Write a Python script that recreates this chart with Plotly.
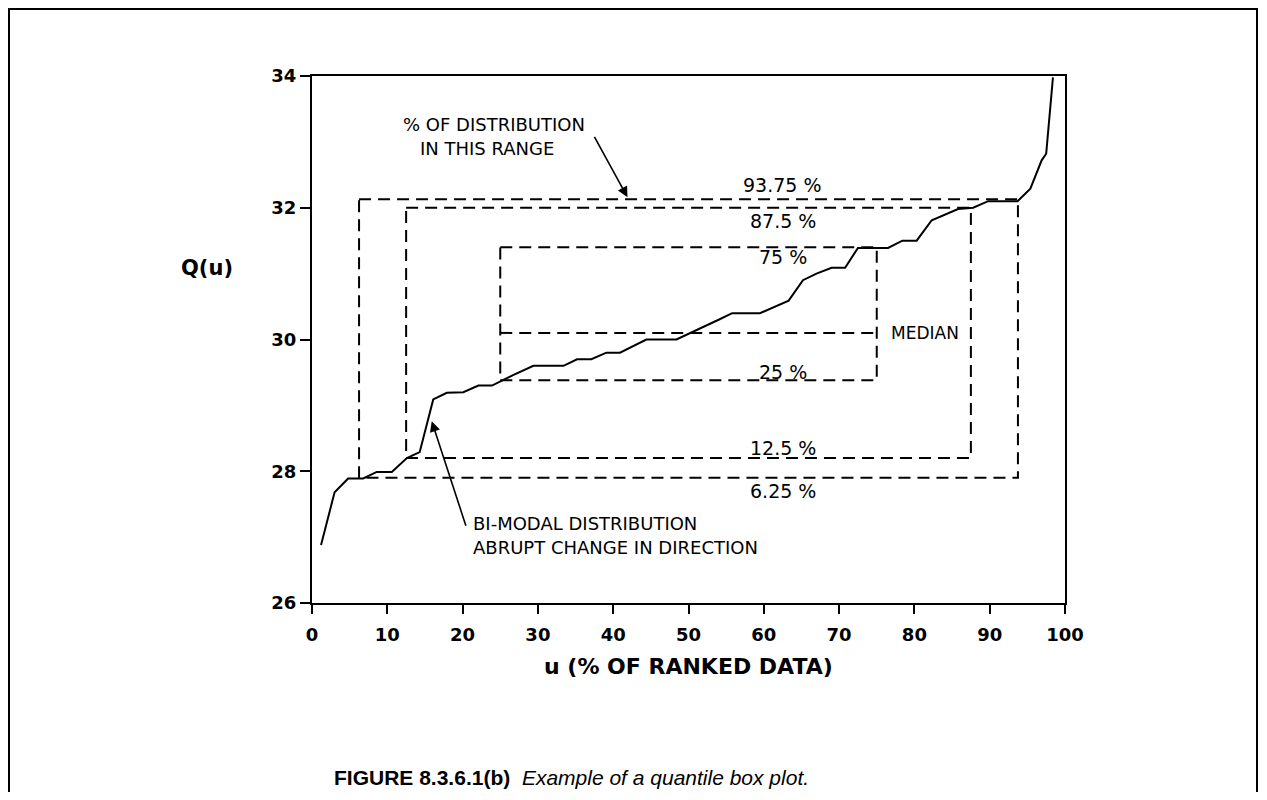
import plotly.graph_objects as go

# ---- data ----
u = [1.2, 3.0, 4.8, 6.8, 8.6, 10.6, 12.6, 14.3, 16.1, 17.9, 20.1, 22.1, 23.9, 26.7,
     29.4, 33.4, 35.2, 37.1, 39.1, 40.9, 44.4, 48.4, 54.0, 55.8, 59.5, 63.3, 65.2,
     67.0, 69.0, 70.8, 72.5, 76.5, 78.4, 80.3, 82.3, 85.8, 87.8, 89.8, 93.7, 95.4,
     96.9, 97.5, 98.4]
Q = [26.88, 27.68, 27.89, 27.89, 27.99, 27.99, 28.20, 28.29, 29.09, 29.19, 29.20, 29.30,
     29.30, 29.46, 29.60, 29.60, 29.70, 29.70, 29.80, 29.80, 30.00, 30.00, 30.30, 30.40,
     30.40, 30.59, 30.90, 31.00, 31.09, 31.09, 31.39, 31.39, 31.50, 31.50, 31.81, 31.98,
     32.00, 32.10, 32.10, 32.29, 32.72, 32.82, 33.98]

box_lo_u = [6.25, 12.5, 25.0]
box_hi_u = [93.75, 87.5, 75.0]
box_lo_q = [27.90, 28.20, 29.38]
box_hi_q = [32.13, 32.00, 31.40]
median_q = 30.10

x_ticks = [0, 10, 20, 30, 40, 50, 60, 70, 80, 90, 100]
y_ticks = [26, 28, 30, 32, 34]

# ---- layout geometry (screen pixels; page body has an 8px offset) ----
OFF = 8
W, H = 1251, 784
ML, MT = 312 - OFF, 76 - OFF
MR = W - (1065 - OFF)
MB = H - (603 - OFF)
PW, PH = W - ML - MR, H - MT - MB


def px_x(p):
    return (p - OFF - ML) / PW


def px_y(p):
    return (H - MB - (p - OFF)) / PH


DASH = "12px,7px"
fig = go.Figure()

for lo_u, hi_u, lo_q, hi_q in zip(box_lo_u, box_hi_u, box_lo_q, box_hi_q):
    fig.add_trace(go.Scatter(
        x=[lo_u, hi_u, hi_u, lo_u, lo_u],
        y=[hi_q, hi_q, lo_q, lo_q, hi_q],
        mode="lines", line=dict(color="black", width=2, dash=DASH),
        hoverinfo="skip"))

fig.add_trace(go.Scatter(
    x=[box_lo_u[2], box_hi_u[2]], y=[median_q, median_q],
    mode="lines", line=dict(color="black", width=2, dash=DASH), hoverinfo="skip"))

fig.add_trace(go.Scatter(x=u, y=Q, mode="lines",
                         line=dict(color="black", width=2)))

TXT = dict(family="DejaVu Sans", size=19, color="black")
TXT2 = dict(family="DejaVu Sans", size=18, color="black")
BOLD = dict(family="DejaVu Sans", size=22, color="black", weight="bold")

ann = []
pct_labels = [("93.75 %", 32.34), ("87.5 %", 31.80), ("75 %", 31.25),
              ("25 %", 29.51), ("12.5 %", 28.35), ("6.25 %", 27.70)]
for t, yy in pct_labels:
    ann.append(dict(x=62.5, y=yy, xref="x", yref="y", text=t, showarrow=False,
                    font=TXT, xanchor="center", yanchor="middle"))
ann.append(dict(x=81.4, y=30.10, xref="x", yref="y", text="MEDIAN", showarrow=False,
                font=dict(family="DejaVu Sans", size=17, color="black")))
ann.append(dict(x=24.2, y=33.27, xref="x", yref="y", text="% OF DISTRIBUTION",
                showarrow=False, font=TXT2))
ann.append(dict(x=23.2, y=32.90, xref="x", yref="y", text="IN THIS RANGE",
                showarrow=False, font=TXT2))
ann.append(dict(x=21.1, y=27.21, xref="x", yref="y", text="BI-MODAL DISTRIBUTION",
                showarrow=False, font=TXT2, xanchor="left"))
ann.append(dict(x=21.1, y=26.84, xref="x", yref="y", text="ABRUPT CHANGE IN DIRECTION",
                showarrow=False, font=TXT2, xanchor="left"))
# arrows
ann.append(dict(x=41.9, y=32.16, ax=37.4, ay=33.1, xref="x", yref="y", axref="x", ayref="y",
                text="", showarrow=True, arrowhead=2, arrowsize=1.3, arrowwidth=1.6,
                arrowcolor="black", standoff=0))
ann.append(dict(x=15.9, y=28.76, ax=20.5, ay=27.15, xref="x", yref="y", axref="x", ayref="y",
                text="", showarrow=True, arrowhead=2, arrowsize=1.3, arrowwidth=1.6,
                arrowcolor="black", standoff=0))
# axis titles
ann.append(dict(x=0.5, y=px_y(666), xref="paper", yref="paper",
                text="u (% OF RANKED DATA)", showarrow=False, font=BOLD,
                xanchor="center", yanchor="middle"))
ann.append(dict(x=px_x(207), y=px_y(268), xref="paper", yref="paper",
                text="Q(u)", showarrow=False,
                font=dict(family="DejaVu Sans", size=21, color="black", weight="bold"),
                xanchor="center", yanchor="middle"))
# caption
ann.append(dict(x=px_x(571), y=px_y(777), xref="paper", yref="paper",
                text="<b>FIGURE 8.3.6.1(b)</b>  <i>Example of a quantile box plot.</i>",
                showarrow=False,
                font=dict(family="Liberation Sans", size=21, color="black"),
                xanchor="center", yanchor="middle"))

fig.update_layout(
    width=W, height=H, autosize=False,
    margin=dict(l=ML, r=MR, t=MT, b=MB),
    paper_bgcolor="white", plot_bgcolor="white",
    showlegend=False,
    annotations=ann,
    shapes=[dict(type="rect", xref="paper", yref="paper",
                 x0=px_x(9), x1=px_x(1257), y0=px_y(840), y1=px_y(9),
                 line=dict(color="black", width=2), fillcolor="rgba(0,0,0,0)",
                 layer="below")],
    xaxis=dict(range=[0, 100], tickvals=x_ticks, showgrid=False, zeroline=False,
               showline=True, linecolor="black", linewidth=2, mirror=True,
               ticks="outside", ticklen=9, tickwidth=2, tickcolor="black",
               ticklabelstandoff=5,
               tickfont=dict(family="DejaVu Sans", size=18, color="black", weight="bold")),
    yaxis=dict(range=[26, 34], tickvals=y_ticks, showgrid=False, zeroline=False,
               showline=True, linecolor="black", linewidth=2, mirror=True,
               ticks="outside", ticklen=10, tickwidth=2, tickcolor="black",
               tickfont=dict(family="DejaVu Sans", size=18, color="black", weight="bold")),
)

fig.write_html("out.html")
